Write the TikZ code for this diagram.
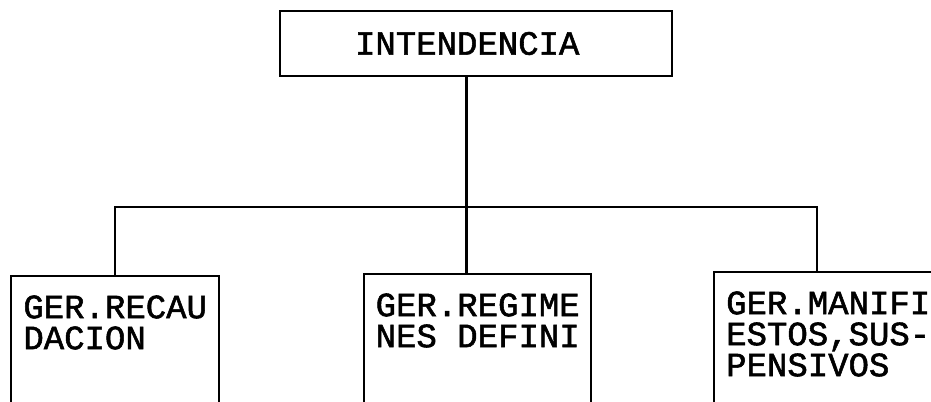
\documentclass[tikz,border=0pt]{standalone}
\usepackage{fontspec}
\newfontfamily\orgfont{Liberation Mono}[BoldFont=Liberation Mono, BoldFeatures={FakeBold=1.6}]
\usepackage{tikz}

\tikzset{
  orgbox/.style={draw, rectangle, line width=1.8pt, font=\orgfont\bfseries\fontsize{25.5}{23.25}\selectfont},
  unitbox/.style={orgbox, anchor=north west, align=left, inner xsep=0pt, inner ysep=0pt,
    text height=54.75pt, text depth=70pt},
}

\begin{document}
\begin{tikzpicture}[x=0.75pt, y=-0.75pt, line width=1.8pt]
\useasboundingbox (0,0) rectangle (931,401);
\node[orgbox, minimum width=294pt, minimum height=48.75pt, text width=181.5pt,
  inner xsep=56.25pt, align=left] (intend) at (476,43.5) {INTENDENCIA};
\node[unitbox, minimum width=156pt] (recau) at (10,275) {GER.RECAU\\DACION};
\node[unitbox, minimum width=170.25pt] (regim) at (363,273) {GER.REGIME\\NES DEFINI};
\node[unitbox, minimum width=171pt, text height=78pt, text depth=50pt] (manif) at (713,271) {GER.MANIFI\\ESTOS,SUS-\\PENSIVOS};
% branch points on the bus line
\coordinate (jl) at (115,207);
\coordinate (jm) at (466.5,207);
\coordinate (jr) at (817,207);
\draw (jm |- intend.south) -- (jm |- regim.north);
\draw (jl |- recau.north) -- (jl) -- (jr) -- (jr |- manif.north);
\end{tikzpicture}
\end{document}
